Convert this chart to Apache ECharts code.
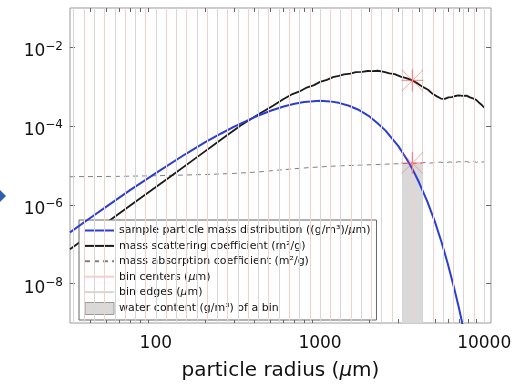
<!DOCTYPE html>
<html>
<head>
<meta charset="utf-8">
<script src="https://cdn.jsdelivr.net/npm/echarts@6/dist/echarts.min.js"></script>
<style>
  html, body { margin: 0; padding: 0; background: #fff; }
  #chart { width: 520px; height: 386px; }
</style>
</head>
<body>
<div id="chart"></div>
<script>
// particle radius samples (um) and values
var blueR = [30, 40, 50, 70, 100, 150, 200, 250, 300, 400, 500, 600, 700, 800, 1000, 1150, 1300, 1500, 1700, 2000, 2250, 2500, 2750, 3000, 3250, 3500, 3750, 4000, 4500, 5000, 5500, 6000, 6500, 7000, 7500];
var blueVal = [2.0e-7, 4.7e-7, 9.0e-7, 2.4e-6, 6.4e-6, 1.9e-5, 3.9e-5, 6.5e-5, 9.7e-5, 1.7e-4, 2.46e-4, 3.15e-4, 3.7e-4, 4.09e-4, 4.4e-4, 4.25e-4, 3.9e-4, 3.3e-4, 2.65e-4, 1.76e-4, 1.17e-4, 7.8e-5, 4.8e-5, 3.1e-5, 1.85e-5, 1.12e-5, 6.6e-6, 3.8e-6, 1.23e-6, 3.8e-7, 1.12e-7, 3.2e-8, 9.0e-9, 2.5e-9, 6.8e-10];

var blackR = [30, 50, 80, 120, 180, 250, 330, 430, 520, 600, 680, 750, 830, 920, 1000, 1100, 1200, 1300, 1400, 1530, 1650, 1800, 1950, 2100, 2250, 2450, 2650, 2850, 3100, 3350, 3652, 3950, 4250, 4550, 4850, 5150, 5450, 5750, 6050, 6350, 6650, 7000, 7400, 7800, 8200, 8600, 9000, 9400, 9700, 10000];
var blackVal = [7.5e-8, 3.5e-7, 1.45e-6, 4.9e-6, 1.68e-5, 4.6e-5, 1.05e-4, 2.09e-4, 3.36e-4, 4.9e-4, 6.53e-4, 7.59e-4, 9.55e-4, 1.1e-3, 1.33e-3, 1.5e-3, 1.76e-3, 1.88e-3, 2.06e-3, 2.15e-3, 2.34e-3, 2.4e-3, 2.51e-3, 2.49e-3, 2.55e-3, 2.4e-3, 2.19e-3, 2.09e-3, 1.8e-3, 1.66e-3, 1.445e-3, 1.2e-3, 9.77e-4, 8.41e-4, 6.61e-4, 5.69e-4, 5.01e-4, 4.9e-4, 5.37e-4, 5.43e-4, 5.82e-4, 6.03e-4, 5.89e-4, 5.96e-4, 5.37e-4, 5.01e-4, 4.52e-4, 3.8e-4, 3.39e-4, 2.95e-4];

var absR = [30, 60, 100, 200, 300, 430, 550, 700, 850, 1000, 1300, 1740, 2500, 3000, 3652, 4000, 4300, 4600, 5000, 5400, 5800, 6200, 6600, 7000, 7400, 7800, 8200, 8600, 9000, 9400, 9700, 10000];
var absVal = [5.2e-6, 5.3e-6, 5.5e-6, 5.9e-6, 6.3e-6, 6.9e-6, 7.6e-6, 8.3e-6, 8.8e-6, 9.2e-6, 9.8e-6, 1.02e-5, 1.08e-5, 1.11e-5, 1.15e-5, 1.13e-5, 1.2e-5, 1.14e-5, 1.18e-5, 1.22e-5, 1.16e-5, 1.24e-5, 1.17e-5, 1.26e-5, 1.19e-5, 1.27e-5, 1.18e-5, 1.28e-5, 1.2e-5, 1.3e-5, 1.21e-5, 1.25e-5];

var binEdges = [31.62, 42.17, 56.23, 74.99, 100, 133.4, 177.8, 237.1, 316.2, 421.7, 562.3, 749.9, 1000, 1334, 1778, 2371, 3162, 4217, 5623, 7499, 10000];
var binCenters = [36.52, 48.70, 64.94, 86.60, 115.5, 154.0, 205.4, 273.8, 365.2, 487.0, 649.4, 866.0, 1155, 1540, 2054, 2738, 3652, 4870, 6494, 8660];

var waterBin = [3162, 4217];
var waterValue = 1.1e-5;
var starR = 3652;
var starVals = [1.445e-3, 1.15e-5];

var xLabels = [100, 1000, 10000];
var xTicks = [40, 50, 60, 70, 80, 90, 100, 200, 300, 400, 500, 600, 700, 800, 900, 1000, 2000, 3000, 4000, 5000, 6000, 7000, 8000, 9000, 10000];
var yLabels = [1e-8, 1e-6, 1e-4, 1e-2];

var names = [
    'sample particle mass distribution ((g/m\u00b3)/\u03bcm)',
    'mass scattering coefficient (m\u00b2/g)',
    'mass absorption coefficient (m\u00b2/g)',
    'bin centers (\u03bcm)',
    'bin edges (\u03bcm)',
    'water content (g/m\u00b3) of a bin'
];

var FONT = 'DejaVu Sans';

function zip(xs, ys) {
    return xs.map(function (x, i) { return [x, ys[i]]; });
}

function yFmt(v) {
    var e = Math.round(Math.log10(v));
    return '{b|10}{s|' + (e < 0 ? '\u2212' : '') + Math.abs(e) + '}';
}

var star = 'path://M0 47L100 47L100 53L0 53Z M47 0L53 0L53 100L47 100Z M2 0L100 98L98 100L0 2Z M98 0L100 2L2 100L0 98Z';

var tickStyle = { color: '#666', width: 1 };

var chart = echarts.init(document.getElementById('chart'));
var option = {
    animation: false,
    backgroundColor: '#fff',
    grid: {
        left: 70, top: 8, right: 29, bottom: 53,
        show: true, borderColor: '#999', borderWidth: 1, backgroundColor: '#fff'
    },
    xAxis: [{
        type: 'log', logBase: 10, min: 30, max: 11000, position: 'bottom',
        axisLine: { show: false },
        axisTick: { inside: true, length: 4, customValues: xTicks, lineStyle: tickStyle },
        axisLabel: {
            customValues: xLabels, fontSize: 17, fontFamily: FONT, color: '#111', margin: 12,
            formatter: function (v) { return String(Math.round(v)); }
        },
        splitLine: { show: false },
        minorTick: { show: false },
        name: 'particle radius ({i|\u03bc}m)',
        nameLocation: 'middle',
        nameGap: 38,
        nameTextStyle: {
            fontSize: 20, fontFamily: FONT, color: '#111',
            rich: { i: { fontSize: 20, fontFamily: FONT, fontStyle: 'italic', color: '#111' } }
        }
    }, {
        type: 'log', logBase: 10, min: 30, max: 11000, position: 'top',
        axisLine: { show: false },
        axisTick: { inside: true, length: 4, customValues: xTicks, lineStyle: tickStyle },
        axisLabel: { show: false },
        splitLine: { show: false }
    }],
    yAxis: [{
        type: 'log', logBase: 10, min: 1e-9, max: 1e-1, position: 'left',
        axisLine: { show: false },
        axisTick: { inside: true, length: 5, customValues: yLabels, lineStyle: tickStyle },
        axisLabel: {
            customValues: yLabels, margin: 7, formatter: yFmt,
            padding: [6, 0, 0, 0],
            rich: {
                b: { fontSize: 17, fontFamily: FONT, color: '#111', lineHeight: 20, verticalAlign: 'bottom' },
                s: { fontSize: 12, fontFamily: FONT, color: '#111', lineHeight: 12, verticalAlign: 'top' }
            }
        },
        splitLine: { show: false }
    }, {
        type: 'log', logBase: 10, min: 1e-9, max: 1e-1, position: 'right',
        axisLine: { show: false },
        axisTick: { inside: true, length: 5, customValues: yLabels, lineStyle: tickStyle },
        axisLabel: { show: false },
        splitLine: { show: false }
    }],
    legend: {
        orient: 'vertical',
        left: 79, top: 220,
        padding: [5, 6, 5, 5],
        itemGap: 4.4,
        itemWidth: 29,
        itemHeight: 12,
        backgroundColor: '#fff',
        borderColor: '#666',
        borderWidth: 1,
        selectedMode: false,
        itemStyle: { opacity: 0 },
        textStyle: {
            fontSize: 11, fontFamily: FONT, color: '#111',
            rich: { i: { fontSize: 11, fontFamily: FONT, fontStyle: 'italic', color: '#111' } }
        },
        formatter: function (name) { return name.replace('\u03bc', '{i|\u03bc}'); },
        data: [
            { name: names[0] },
            { name: names[1] },
            { name: names[2] },
            { name: names[3] },
            { name: names[4] },
            { name: names[5], icon: 'rect', itemStyle: { color: '#d9d9d9', borderColor: '#999', borderWidth: 1, opacity: 1 } }
        ]
    },
    graphic: [{
        type: 'polygon',
        shape: { points: [[0, 190], [6, 196], [0, 202], [-6, 196]] },
        style: { fill: '#2f5fb3' }
    }],
    series: [{
        name: names[5],
        type: 'line', data: [], z: 1,
        itemStyle: { color: '#d9d9d9' },
        lineStyle: { color: '#d9d9d9' },
        markArea: {
            silent: true,
            itemStyle: { color: '#d9d9d9' },
            data: [[{ xAxis: waterBin[0], yAxis: 1e-9 }, { xAxis: waterBin[1], yAxis: waterValue }]]
        }
    }, {
        name: names[4],
        type: 'line', data: [], z: 1, symbol: 'none',
        itemStyle: { color: '#d6d6d6' },
        lineStyle: { color: '#d6d6d6', width: 1 },
        markLine: {
            silent: true, symbol: ['none', 'none'], label: { show: false },
            lineStyle: { color: '#d6d6d6', width: 1, type: 'solid' },
            data: binEdges.map(function (v) { return { xAxis: v }; })
        }
    }, {
        name: names[3],
        type: 'line', data: [], z: 1, symbol: 'none',
        itemStyle: { color: '#f5cfcf' },
        lineStyle: { color: '#f5cfcf', width: 1 },
        markLine: {
            silent: true, symbol: ['none', 'none'], label: { show: false },
            lineStyle: { color: '#f5cfcf', width: 1, type: 'solid' },
            data: binCenters.map(function (v) { return { xAxis: v }; })
        }
    }, {
        name: names[2],
        type: 'line', z: 3, symbol: 'none',
        data: zip(absR, absVal),
        itemStyle: { color: '#808080' },
        lineStyle: { color: '#808080', width: 1, type: [5, 4] }
    }, {
        name: names[1],
        type: 'line', z: 3, symbol: 'none',
        data: zip(blackR, blackVal),
        itemStyle: { color: '#1a1a1a' },
        lineStyle: { color: '#1a1a1a', width: 1.8 }
    }, {
        name: names[0],
        type: 'line', z: 4, symbol: 'none',
        data: zip(blueR, blueVal),
        itemStyle: { color: '#2a3ed6' },
        lineStyle: { color: '#2a3ed6', width: 2 }
    }, {
        name: 'stars',
        type: 'scatter', z: 5,
        symbol: star, symbolSize: 22,
        data: starVals.map(function (v) { return [starR, v]; }),
        itemStyle: { color: 'rgba(255,70,70,0.7)' }
    }]
};
chart.setOption(option);
</script>
</body>
</html>
